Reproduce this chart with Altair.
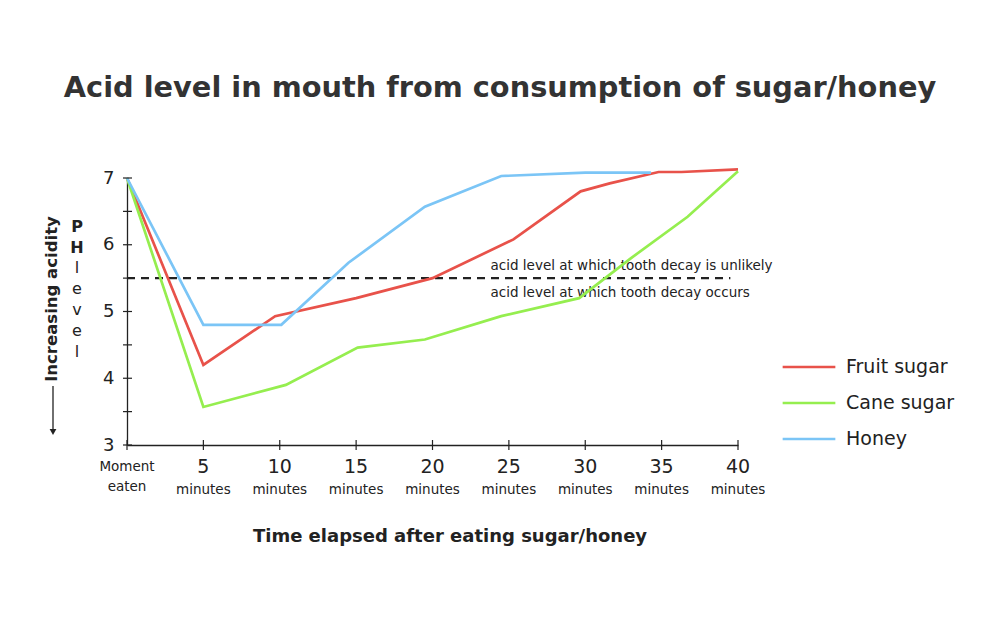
import altair as alt
import pandas as pd

# ---- data ----
series_names = ["Fruit sugar", "Cane sugar", "Honey"]
series_colors = ["#E8524A", "#95EE4F", "#7BC5F6"]

fruit_min = [0, 5, 9.7, 15, 20, 25.3, 29.7, 31.6, 34.8, 36.3, 40]
fruit_ph = [7.0, 4.2, 4.93, 5.2, 5.5, 6.08, 6.8, 6.92, 7.09, 7.09, 7.13]

cane_min = [0, 5, 10.4, 15.1, 19.5, 24.5, 29.6, 33, 36.7, 40]
cane_ph = [7.0, 3.57, 3.9, 4.46, 4.58, 4.93, 5.2, 5.8, 6.42, 7.1]

honey_min = [0, 5, 10.1, 14.5, 19.5, 24.5, 30, 34.3]
honey_ph = [7.0, 4.8, 4.8, 5.73, 6.57, 7.03, 7.08, 7.08]

threshold = 5.5
threshold_end = 39.5
note_x = 23.8
note_above = "acid level at which tooth decay is unlikely"
note_below = "acid level at which tooth decay occurs"

x_tick_values = [0, 5, 10, 15, 20, 25, 30, 35, 40]
x_numbers = ["5", "10", "15", "20", "25", "30", "35", "40"]
y_label_values = [3, 4, 5, 6, 7]
y_tick_values = [3, 3.5, 4, 4.5, 5, 5.5, 6, 6.5, 7]

title_text = "Acid level in mouth from consumption of sugar/honey"
x_title_text = "Time elapsed after eating sugar/honey"
y_title_text = "Increasing acidity"
ph_bold = ["P", "H"]
ph_rest = ["l", "e", "v", "e", "l"]

FONT = "DejaVu Sans"
INK = "#222222"

rows = []
for name, xs, ys in [(series_names[0], fruit_min, fruit_ph),
                     (series_names[1], cane_min, cane_ph),
                     (series_names[2], honey_min, honey_ph)]:
    for i, (a, b) in enumerate(zip(xs, ys)):
        rows.append({"series": name, "minute": a, "ph": b, "order": i})
df = pd.DataFrame(rows)

W, H = 611, 267
xscale = alt.Scale(domain=[0, 40], nice=False, zero=False)
yscale = alt.Scale(domain=[3, 7], nice=False, zero=False)

lines = alt.Chart(df).mark_line(strokeWidth=2.7).encode(
    x=alt.X("minute:Q", scale=xscale,
            axis=alt.Axis(title=None, labels=False, ticks=False, grid=False,
                          domainColor=INK, domainWidth=1.3)),
    y=alt.Y("ph:Q", scale=yscale,
            axis=alt.Axis(title=None, values=y_label_values, ticks=False, grid=False,
                          format="d", domainColor=INK, domainWidth=1.3, labelFontSize=18,
                          labelFont=FONT, labelColor=INK, labelPadding=13)),
    color=alt.Color("series:N",
                    scale=alt.Scale(domain=series_names, range=series_colors),
                    legend=alt.Legend(title=None, orient="none", legendX=672, legendY=179,
                                      symbolType="M-3.1,0H3.1", symbolSize=289,
                                      symbolStrokeWidth=2.7, labelOffset=27,
                                      labelFontSize=19, labelFont=FONT, labelColor=INK,
                                      rowPadding=16, padding=0)),
    order="order:Q",
)

# cross ticks on y axis
ydf = pd.DataFrame({"v": y_tick_values})
yticks = alt.Chart(ydf).mark_rule(color=INK, strokeWidth=1.2, xOffset=-4, x2Offset=5).encode(
    x=alt.datum(0), x2=alt.datum(0), y=alt.Y("v:Q", scale=yscale))

xdf = pd.DataFrame({"v": x_tick_values})
xticks = alt.Chart(xdf).mark_rule(color=INK, strokeWidth=1.2, yOffset=-5, y2Offset=5).encode(
    x=alt.X("v:Q", scale=xscale), y=alt.datum(3), y2=alt.datum(3))

# x labels
ndf = pd.DataFrame({"v": x_tick_values[1:], "t": x_numbers})
xnums = alt.Chart(ndf).mark_text(fontSize=19, font=FONT, color=INK, baseline="middle").encode(
    x=alt.X("v:Q", scale=xscale), y=alt.value(H + 22), text="t:N")
xmins = alt.Chart(ndf).mark_text(fontSize=13.5, font=FONT, color=INK, baseline="middle").encode(
    x=alt.X("v:Q", scale=xscale), y=alt.value(H + 45), text=alt.value("minutes"))
xmoment = alt.Chart(pd.DataFrame({"v": [0]})).mark_text(
    fontSize=13.5, font=FONT, color=INK, baseline="middle", lineHeight=20).encode(
    x=alt.X("v:Q", scale=xscale), y=alt.value(H + 22), text=alt.value(["Moment", "eaten"]))

# threshold
tdf = pd.DataFrame({"y": [threshold], "x0": [0], "x1": [threshold_end]})
thresh = alt.Chart(tdf).mark_rule(color=INK, strokeWidth=2.2, strokeDash=[8, 6]).encode(
    x=alt.X("x0:Q", scale=xscale), x2="x1:Q", y=alt.Y("y:Q", scale=yscale))
ndf2 = pd.DataFrame({"x": [note_x, note_x], "y": [threshold, threshold],
                     "t": [note_above, note_below]})
note1 = alt.Chart(ndf2.iloc[[0]]).mark_text(fontSize=13.5, font=FONT, color=INK, align="left",
                                            baseline="middle", dy=-12).encode(
    x=alt.X("x:Q", scale=xscale), y=alt.Y("y:Q", scale=yscale), text="t:N")
note2 = alt.Chart(ndf2.iloc[[1]]).mark_text(fontSize=13.5, font=FONT, color=INK, align="left",
                                            baseline="middle", dy=15).encode(
    x=alt.X("x:Q", scale=xscale), y=alt.Y("y:Q", scale=yscale), text="t:N")

one = pd.DataFrame({"a": [0]})
title = alt.Chart(one).mark_text(fontSize=28.8, font=FONT, fontWeight="bold", color="#333333",
                                 align="center", baseline="middle").encode(
    x=alt.value(373), y=alt.value(-90), text=alt.value(title_text))
xtitle = alt.Chart(one).mark_text(fontSize=18, font=FONT, fontWeight="bold", color=INK,
                                  align="center", baseline="middle").encode(
    x=alt.value(323), y=alt.value(359), text=alt.value(x_title_text))
ytitle = alt.Chart(one).mark_text(fontSize=16.5, font=FONT, fontWeight="bold", color=INK,
                                  align="center", baseline="middle", angle=270).encode(
    x=alt.value(-75), y=alt.value(121), text=alt.value(y_title_text))
arrow = alt.Chart(one).mark_rule(color=INK, strokeWidth=1.3).encode(
    x=alt.value(-74), y=alt.value(208), y2=alt.value(252))
arrowhead = alt.Chart(one).mark_point(shape="triangle-down", filled=True, color=INK,
                                      size=45, opacity=1).encode(
    x=alt.value(-74), y=alt.value(254))
ph1 = alt.Chart(one).mark_text(fontSize=16, font=FONT, fontWeight="bold", color=INK,
                               align="center", baseline="middle", lineHeight=21).encode(
    x=alt.value(-50), y=alt.value(49), text=alt.value(ph_bold))
ph2 = alt.Chart(one).mark_text(fontSize=16, font=FONT, color=INK,
                               align="center", baseline="middle", lineHeight=21).encode(
    x=alt.value(-50), y=alt.value(90), text=alt.value(ph_rest))

chart = alt.layer(
    thresh, note1, note2, lines, yticks, xticks, xnums, xmins, xmoment,
    title, xtitle, ytitle, arrow, arrowhead, ph1, ph2
).properties(
    width=W, height=H, autosize="none", background="white",
    padding={"left": 119, "top": 170, "right": 254, "bottom": 160},
).configure_view(stroke="transparent", strokeWidth=0)

chart.save("out.html", embed_options={"renderer": "svg", "actions": False})
